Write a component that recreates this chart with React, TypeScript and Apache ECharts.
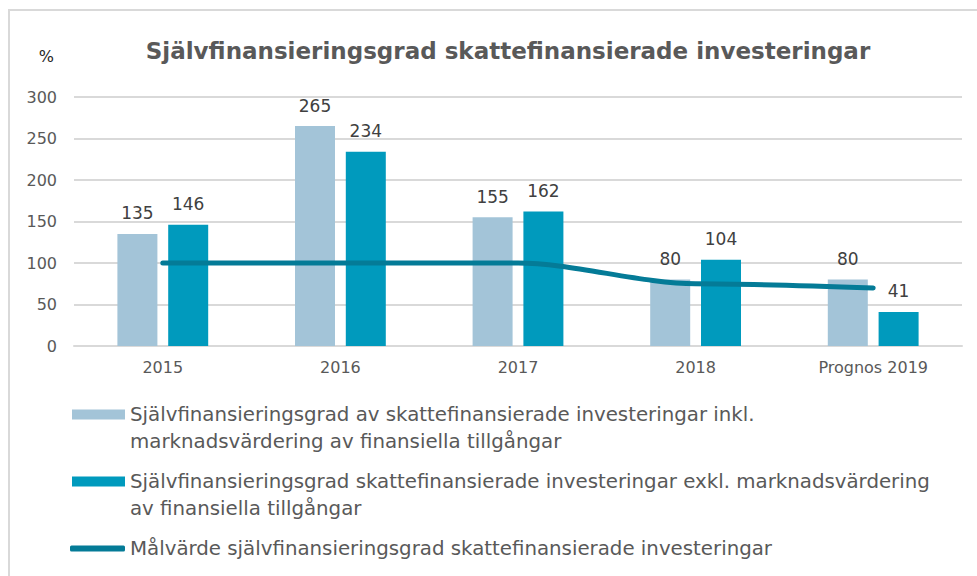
import React, { useEffect, useRef } from "react";
import * as echarts from "echarts";

const categories = ["2015", "2016", "2017", "2018", "Prognos 2019"];
const inklValues = [135, 265, 155, 80, 80];
const exklValues = [146, 234, 162, 104, 41];
const targetValues = [100, 100, 100, 75, 70];
const yTicks = { min: 0, max: 300, interval: 50 };

const nameInkl =
  "Självfinansieringsgrad av skattefinansierade investeringar inkl. marknadsvärdering av finansiella tillgångar";
const nameExkl =
  "Självfinansieringsgrad skattefinansierade investeringar exkl. marknadsvärdering av finansiella tillgångar";
const nameTarget = "Målvärde självfinansieringsgrad skattefinansierade investeringar";

const legendTextInkl =
  "\nSjälvfinansieringsgrad av skattefinansierade investeringar inkl.\nmarknadsvärdering av finansiella tillgångar";
const legendTextExkl =
  "\nSjälvfinansieringsgrad skattefinansierade investeringar exkl. marknadsvärdering\nav finansiella tillgångar";

const FONT = "DejaVu Sans";
const TEXT = "#595959";

export default function App() {
  const ref = useRef<HTMLDivElement>(null);
  useEffect(() => {
    if (!ref.current) return;
    const chart = echarts.init(ref.current, undefined, { renderer: "svg" });
    const legendText = { fontFamily: FONT, fontSize: 19.8, color: TEXT, lineHeight: 27 };
    chart.setOption({
      animation: false,
      backgroundColor: "#ffffff",
      title: {
        text: "Självfinansieringsgrad skattefinansierade investeringar",
        left: 503,
        textAlign: "center",
        top: 34,
        textStyle: { fontFamily: FONT, fontSize: 23, fontWeight: "bold", color: TEXT },
      },
      graphic: [
        { type: "line", shape: { x1: 8, y1: 10, x2: 977, y2: 10 }, style: { stroke: "#d9d9d9", lineWidth: 2 } },
        { type: "line", shape: { x1: 9, y1: 9, x2: 9, y2: 576 }, style: { stroke: "#d9d9d9", lineWidth: 2 } },
      ],
      grid: { left: 74, right: 15, top: 97, bottom: 230, containLabel: false },
      legend: [
        {
          data: [nameInkl],
          left: 72,
          top: 374,
          padding: 0,
          icon: "rect",
          itemWidth: 53,
          itemHeight: 10,
          formatter: () => legendTextInkl,
          textStyle: legendText,
          selectedMode: false,
        },
        {
          data: [nameExkl],
          left: 72,
          top: 441,
          padding: 0,
          icon: "rect",
          itemWidth: 53,
          itemHeight: 10,
          formatter: () => legendTextExkl,
          textStyle: legendText,
          selectedMode: false,
        },
        {
          data: [nameTarget],
          left: 70,
          top: 535,
          padding: 0,
          icon: "roundRect",
          itemWidth: 55,
          itemHeight: 6,
          textStyle: legendText,
          selectedMode: false,
        },
      ],
      xAxis: {
        type: "category",
        data: categories,
        axisLine: { show: true, lineStyle: { color: "#d9d9d9", width: 2 } },
        axisTick: { show: false },
        axisLabel: { fontFamily: FONT, fontSize: 16, color: TEXT, margin: 13 },
      },
      yAxis: {
        type: "value",
        min: yTicks.min,
        max: yTicks.max,
        interval: yTicks.interval,
        name: "%",
        nameLocation: "end",
        nameGap: 33,
        nameTextStyle: { fontFamily: FONT, fontSize: 16, color: "#262626", align: "right", padding: [0, 20, 0, 0] },
        axisLine: { show: false },
        axisTick: { show: false },
        splitLine: { lineStyle: { color: "#d9d9d9", width: 2 } },
        axisLabel: { fontFamily: FONT, fontSize: 16, color: TEXT, margin: 17 },
      },
      series: [
        {
          name: nameInkl,
          type: "bar",
          data: inklValues,
          barWidth: 40,
          barGap: "27%",
          itemStyle: { color: "#a3c4d8" },
          label: { show: true, position: "top", distance: 12, fontFamily: FONT, fontSize: 17, color: "#404040" },
        },
        {
          name: nameExkl,
          type: "bar",
          data: exklValues,
          barWidth: 40,
          barGap: "27%",
          itemStyle: { color: "#009abd" },
          label: { show: true, position: "top", distance: 12, fontFamily: FONT, fontSize: 17, color: "#404040" },
        },
        {
          name: nameTarget,
          type: "line",
          data: targetValues,
          smooth: 0.3,
          smoothMonotone: "x",
          symbol: "none",
          itemStyle: { color: "#047b97" },
          lineStyle: { color: "#047b97", width: 5, cap: "round" },
          z: 5,
        },
      ],
    });
    return () => chart.dispose();
  }, []);
  return <div ref={ref} style={{ position: "fixed", left: 0, top: 0, width: 977, height: 576 }} />;
}
